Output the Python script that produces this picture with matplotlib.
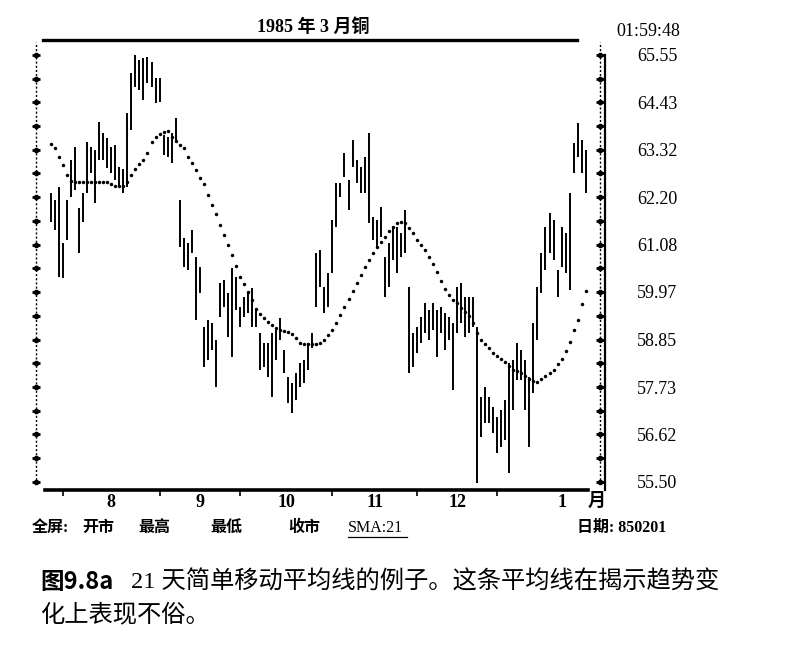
import numpy as np
import matplotlib
matplotlib.use("Agg")
import matplotlib.pyplot as plt
from matplotlib.lines import Line2D

plt.rcParams['font.family'] = ['Liberation Serif', 'Noto Sans CJK SC']

# daily high / low, copper March 1985
highs = [62.30, 62.14, 62.44, 61.13, 62.14, 63.08, 63.39, 61.95, 62.30, 63.50,
         63.39, 63.32, 63.97, 63.72, 63.60, 63.39, 63.44, 62.91, 62.86, 64.19,
         65.13, 65.55, 65.43, 65.48, 65.50, 65.38, 65.01, 65.01, 63.67, 63.62,
         63.72, 64.07, 62.14, 61.24, 61.13, 61.43, 60.80, 60.56, 59.15, 59.31,
         59.24, 58.84, 60.18, 60.25, 59.95, 60.54, 60.33, 59.62, 59.85, 59.97,
         60.06, 59.55, 59.01, 58.77, 58.77, 59.01, 59.08, 59.36, 58.61, 57.97,
         57.83, 58.07, 58.30, 58.37, 58.77, 59.01, 60.89, 60.96, 60.09, 60.42,
         61.67, 62.54, 62.54, 63.25, 62.61, 63.55, 63.08, 62.91, 63.15, 63.72,
         61.74, 61.67, 61.97, 60.80, 61.13, 61.50, 61.50, 61.36, 61.90, 60.09,
         59.01, 59.15, 59.38, 59.71, 59.55, 59.71, 59.55, 59.62, 59.48, 59.38,
         59.24, 60.09, 60.18, 59.85, 59.85, 59.85, 59.15, 57.50, 57.74, 57.50,
         57.27, 57.03, 57.20, 57.43, 58.30, 58.37, 58.77, 58.61, 58.37, 57.97,
         59.24, 60.09, 60.89, 61.50, 61.83, 61.67, 60.49, 61.50, 61.36, 62.30,
         63.48, 63.95, 63.55, 63.32]
lows = [61.62, 61.43, 60.33, 60.30, 61.20, 62.21, 62.37, 60.89, 61.62, 62.30,
        62.77, 62.07, 63.08, 63.08, 62.89, 62.77, 62.61, 62.44, 62.30, 62.44,
        63.79, 64.80, 64.73, 64.49, 64.89, 64.80, 64.42, 64.44, 63.20, 63.15,
        63.00, 63.55, 61.03, 60.56, 60.49, 60.89, 59.31, 59.95, 58.21, 58.37,
        58.61, 57.74, 59.38, 59.62, 58.91, 58.44, 59.55, 59.15, 59.38, 59.48,
        59.15, 59.15, 58.14, 58.21, 57.97, 57.50, 58.37, 58.84, 58.07, 57.36,
        57.12, 57.43, 57.74, 57.83, 58.14, 58.65, 59.62, 60.09, 59.48, 59.62,
        60.42, 61.50, 62.21, 62.68, 61.90, 62.91, 62.54, 62.30, 62.30, 61.60,
        61.20, 61.03, 61.27, 59.86, 60.09, 60.73, 60.42, 60.80, 60.89, 58.07,
        58.21, 58.54, 58.77, 59.01, 58.84, 59.08, 58.44, 59.01, 58.61, 58.84,
        57.67, 59.01, 59.24, 58.91, 59.01, 59.15, 55.48, 56.56, 56.89, 56.89,
        56.65, 56.18, 56.32, 56.49, 55.71, 57.20, 57.90, 57.90, 57.20, 56.32,
        57.59, 58.84, 59.95, 60.49, 60.89, 60.73, 59.85, 60.56, 60.42, 60.02,
        62.77, 63.15, 62.77, 62.30]
# 21 day simple moving average as printed
sma21 = [63.45, 63.35, 63.15, 62.95, 62.72, 62.58, 62.56, 62.56, 62.56, 62.56,
         62.56, 62.56, 62.56, 62.55, 62.55, 62.52, 62.47, 62.47, 62.47, 62.55,
         62.72, 62.86, 62.98, 63.08, 63.25, 63.50, 63.62, 63.68, 63.74, 63.76,
         63.62, 63.52, 63.44, 63.35, 63.15, 63.00, 62.84, 62.66, 62.50, 62.25,
         62.02, 61.80, 61.55, 61.32, 61.08, 60.85, 60.58, 60.33, 60.15, 59.98,
         59.78, 59.58, 59.45, 59.36, 59.27, 59.20, 59.13, 59.08, 59.05, 59.02,
         58.98, 58.88, 58.78, 58.75, 58.75, 58.75, 58.75, 58.78, 58.85, 58.95,
         59.08, 59.25, 59.42, 59.62, 59.80, 60.00, 60.18, 60.38, 60.56, 60.72,
         60.88, 61.02, 61.15, 61.27, 61.40, 61.50, 61.60, 61.62, 61.60, 61.48,
         61.35, 61.20, 61.08, 60.96, 60.80, 60.64, 60.45, 60.22, 60.05, 59.90,
         59.78, 59.70, 59.60, 59.50, 59.40, 59.25, 59.01, 58.85, 58.75, 58.65,
         58.54, 58.47, 58.40, 58.32, 58.22, 58.14, 58.10, 58.07, 58.00, 57.93,
         57.87, 57.86, 57.92, 57.99, 58.07, 58.14, 58.27, 58.40, 58.58, 58.80,
         59.07, 59.31, 59.68, 60.00]

price_labels = [55.50, 56.62, 57.73, 58.85, 59.97, 61.08, 62.20, 63.32, 64.43, 65.55]
month_labels = ['8', '9', '10', '11', '12', '1']
month_starts = [3, 27, 47, 70, 91, 111]   # bar index where each month begins

W, H = 796, 650
fig = plt.figure(figsize=(W / 100, H / 100), dpi=100)

def fx(px):
    return px / W

def fy(py):
    return 1 - py / H

ax = fig.add_axes([fx(36), fy(490), fx(605) - fx(36), (490 - 40) / H])
n = len(highs)
xs = np.arange(n)

ax.vlines(xs, lows, highs, color='black', lw=1.4)
ax.plot(xs, sma21, 'o', color='black', ms=2.5, mew=0)

y_lo, y_hi = 55.31, 65.90
ax.set_xlim(-3.73, 137.8)
ax.set_ylim(y_lo, y_hi)

for s in ax.spines.values():
    s.set_visible(False)

# frame lines
ax.plot([0.012, 0.951], [1.0, 1.0], color='black', lw=2.4, transform=ax.transAxes, clip_on=False)
ax.plot([0.016, 0.970], [0.0, 0.0], color='black', lw=2.6, transform=ax.transAxes, clip_on=False)
ax.plot([1.0, 1.0], [y_lo, price_labels[-1]], color='black', lw=1.6,
        transform=ax.get_yaxis_transform(), clip_on=False)

# dotted vertical scales with small tick marks on both sides
half_steps = np.linspace(price_labels[0], price_labels[-1], 19)
for xa in [0.0, 0.991]:
    ax.plot([xa, xa], [55.45, 65.85], color='black', lw=1.0, ls=(0, (1.5, 1.5)),
            transform=ax.get_yaxis_transform(), clip_on=False)
    ax.plot([xa] * len(half_steps), half_steps, '_', color='black', ms=6, mew=2.0,
            transform=ax.get_yaxis_transform(), clip_on=False)
    ax.plot([xa] * len(half_steps), half_steps, 'o', color='black', ms=3,
            transform=ax.get_yaxis_transform(), clip_on=False)

# price labels on the right
ax.yaxis.tick_right()
ax.set_yticks(price_labels)
ax.set_yticklabels([f"{v:.2f}" for v in price_labels])
ax.tick_params(axis='y', length=0, pad=23, labelsize=13)

# month axis
mids = []
bounds = month_starts + [n + 9]
for a, b in zip(bounds[:-1], bounds[1:]):
    mids.append((a + b) / 2)
ax.set_xticks(mids)
ax.set_xticklabels(month_labels, fontweight='bold')
ax.set_xticks(month_starts, minor=True)
ax.tick_params(axis='x', which='major', length=0, pad=3, labelsize=13)
ax.tick_params(axis='x', which='minor', length=4, width=1.2, direction='out')

# texts
fig.text(fx(313), fy(27), "1985 年 3 月铜", ha='center', va='center', fontsize=13, fontweight='bold')
fig.text(fx(680), fy(31), "01:59:48", ha='right', va='center', fontsize=13)
fig.text(fx(597), fy(501), "月", ha='center', va='center', fontsize=13, fontweight='bold')

row_y = fy(528)
for label, px in [("全屏:", 32), ("开市", 82), ("最高", 138), ("最低", 210), ("收市", 288)]:
    fig.text(fx(px), row_y, label, ha='left', va='center', fontsize=11.5, fontweight='bold')
fig.text(fx(348), row_y, "SMA:21", ha='left', va='center', fontsize=11.5)
fig.add_artist(Line2D([fx(348), fx(407)], [fy(537), fy(537)], color='black', lw=0.9))
fig.text(fx(577), row_y, "日期: 850201", ha='left', va='center', fontsize=11.5, fontweight='bold')

fig.text(fx(40), fy(582), "图9.8a", ha='left', va='center', fontsize=17, fontweight='bold',
         family=['Noto Sans CJK SC'])
fig.text(fx(131), fy(582), "21 天简单移动平均线的例子。这条平均线在揭示趋势变",
         ha='left', va='center', fontsize=17.5)
fig.text(fx(40), fy(615), "化上表现不俗。", ha='left', va='center', fontsize=17.5)

fig.savefig("out.png", dpi=100)
